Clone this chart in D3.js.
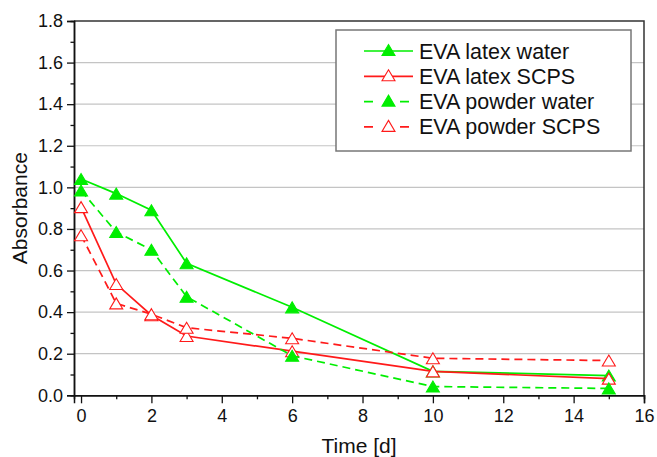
<!DOCTYPE html>
<html>
<head>
<meta charset="utf-8">
<script src="https://cdn.jsdelivr.net/npm/d3@7"></script>
<style>
  html, body { margin: 0; padding: 0; background: #fff; }
  svg { display: block; font-family: "Liberation Sans", Arial, sans-serif; }
</style>
</head>
<body>
<svg id="chart" width="657" height="457"></svg>
<script>
// Absorbance over time for EVA latex / powder in water and SCPS
const times = [0, 1, 2, 3, 6, 10, 15];
const latexWater  = [1.04, 0.97, 0.89, 0.635, 0.423, 0.115, 0.095];
const latexSCPS   = [0.905, 0.535, 0.385, 0.285, 0.212, 0.115, 0.08];
const powderWater = [0.985, 0.785, 0.70, 0.474, 0.19, 0.042, 0.033];
const powderSCPS  = [0.77, 0.442, 0.39, 0.325, 0.274, 0.178, 0.167];

const seriesNames = ["EVA latex water", "EVA latex SCPS", "EVA powder water", "EVA powder SCPS"];
const xMajorTicks = [0, 2, 4, 6, 8, 10, 12, 14, 16];
const xMinorTicks = [1, 3, 5, 7, 9, 11, 13, 15];
const yMajorTicks = [0, 0.2, 0.4, 0.6, 0.8, 1.0, 1.2, 1.4, 1.6, 1.8];
const yMinorTicks = [0.1, 0.3, 0.5, 0.7, 0.9, 1.1, 1.3, 1.5, 1.7];
const xTitle = "Time [d]";
const yTitle = "Absorbance";

const GREEN = "#00ee00", RED = "#ff1a1a";
const series = [
  { name: seriesNames[0], values: latexWater,  color: GREEN, dash: null,  legendDash: null,   filled: true },
  { name: seriesNames[1], values: latexSCPS,   color: RED,   dash: null,  legendDash: null,   filled: false },
  { name: seriesNames[2], values: powderWater, color: GREEN, dash: "8,5", legendDash: "9,27", filled: true },
  { name: seriesNames[3], values: powderSCPS,  color: RED,   dash: "8,5", legendDash: "9,27", filled: false }
];

const svg = d3.select("#chart");
const plotLeft = 74, plotRight = 644, plotTop = 21, plotBottom = 395.3;

const x = d3.scaleLinear().domain([-0.2, 16]).range([plotLeft, plotRight]);
const y = d3.scaleLinear().domain([0, 1.8]).range([plotBottom, plotTop]);

// horizontal grid
svg.append("g").selectAll("line")
  .data(yMajorTicks.filter(v => v > 0 && v < 1.8))
  .join("line")
  .attr("x1", plotLeft).attr("x2", plotRight)
  .attr("y1", d => y(d)).attr("y2", d => y(d))
  .attr("stroke", "#c4c4c4").attr("stroke-width", 1.2);

// frame top and right
svg.append("path")
  .attr("d", `M${plotLeft},${plotTop}H${plotRight}V${plotBottom}`)
  .attr("fill", "none").attr("stroke", "#333").attr("stroke-width", 1.5);

// axes
svg.append("g").attr("transform", `translate(${plotLeft},0)`)
  .call(d3.axisLeft(y).tickValues(yMajorTicks).tickSize(7).tickPadding(4).tickFormat(d3.format(".1f")));
svg.append("g").attr("transform", `translate(${plotLeft},0)`)
  .call(d3.axisLeft(y).tickValues(yMinorTicks).tickSize(3.5).tickFormat(""));
svg.append("g").attr("transform", `translate(0,${plotBottom})`)
  .call(d3.axisBottom(x).tickValues(xMajorTicks).tickSize(8).tickPadding(6).tickFormat(d3.format("d")));
svg.append("g").attr("transform", `translate(0,${plotBottom})`)
  .call(d3.axisBottom(x).tickValues(xMinorTicks).tickSize(4).tickFormat(""));

svg.selectAll(".domain").attr("stroke", "#111").attr("stroke-width", 1.5);
svg.selectAll(".tick line").attr("stroke", "#111").attr("stroke-width", 1.3);
svg.selectAll(".tick text").attr("font-size", 18).attr("fill", "#111")
  .attr("font-family", "'Liberation Sans', Arial, sans-serif");

// axis titles
svg.append("text")
  .attr("transform", `translate(${27},${(plotTop + plotBottom) / 2}) rotate(-90)`)
  .attr("text-anchor", "middle")
  .attr("font-size", 21).attr("fill", "#111")
  .text(yTitle);
svg.append("text")
  .attr("x", (plotLeft + plotRight) / 2).attr("y", 453)
  .attr("text-anchor", "middle")
  .attr("font-size", 21).attr("fill", "#111")
  .text(xTitle);

// triangle marker path
const tri = "M0,-5.5L6.5,5.5L-6.5,5.5Z";

const line = d3.line().x(d => x(d[0])).y(d => y(d[1]));

series.forEach(s => {
  const pts = times.map((t, i) => [t, s.values[i]]);
  const g = svg.append("g");
  g.append("path")
    .attr("d", line(pts))
    .attr("fill", "none")
    .attr("stroke", s.color)
    .attr("stroke-width", 1.7)
    .attr("stroke-dasharray", s.dash);
  g.selectAll("path.m").data(pts).join("path")
    .attr("class", "m")
    .attr("d", tri)
    .attr("transform", d => `translate(${x(d[0])},${y(d[1])})`)
    .attr("fill", s.filled ? s.color : "#fff")
    .attr("stroke", s.color)
    .attr("stroke-width", 1.1);
});

// legend
const lg = svg.append("g");
lg.append("rect")
  .attr("x", 336).attr("y", 30).attr("width", 295).attr("height", 121)
  .attr("fill", "#fff").attr("stroke", "#777").attr("stroke-width", 1.5);
series.forEach((s, i) => {
  const ry = 51 + i * 25.3;
  lg.append("line")
    .attr("x1", 364).attr("x2", 413).attr("y1", ry).attr("y2", ry)
    .attr("stroke", s.color).attr("stroke-width", 1.7)
    .attr("stroke-dasharray", s.legendDash);
  lg.append("path")
    .attr("d", tri)
    .attr("transform", `translate(388.5,${ry - 1})`)
    .attr("fill", s.filled ? s.color : "#fff")
    .attr("stroke", s.color).attr("stroke-width", 1.1);
  lg.append("text")
    .attr("x", 419).attr("y", ry + 7.5)
    .attr("font-size", 21.5).attr("fill", "#111")
    .text(s.name);
});
</script>
</body>
</html>
